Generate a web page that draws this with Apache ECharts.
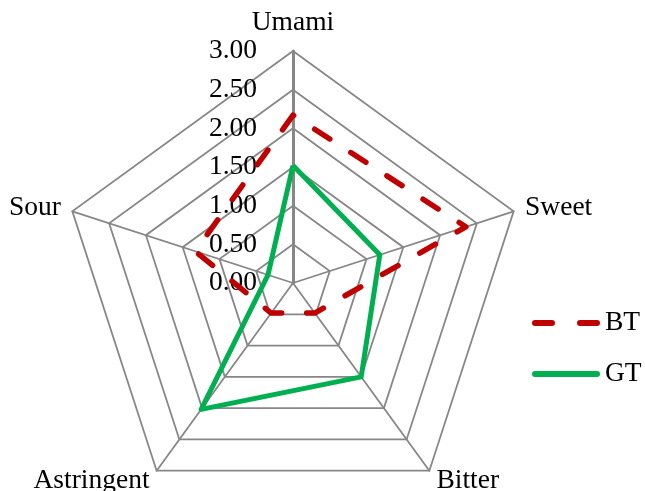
<!DOCTYPE html>
<html>
<head>
<meta charset="utf-8">
<script src="https://cdn.jsdelivr.net/npm/echarts@6/dist/echarts.min.js"></script>
<style>
html,body{margin:0;padding:0;background:#fff;}
#chart{width:645px;height:491px;}
</style>
</head>
<body>
<div id="chart"></div>
<script>
// Data (indicator order follows ECharts counter-clockwise layout)
const categories = ['Umami', 'Sour', 'Astringent', 'Bitter', 'Sweet'];
const bt = [2.17, 1.33, 0.48, 0.48, 2.35];
const gt = [1.52, 0.34, 2.02, 1.50, 1.18];
const seriesNames = ['BT', 'GT'];
const axisMax = 3;
const tickStep = 0.5;

const FONT = "'Liberation Serif', 'Times New Roman', serif";
const GRID = '#878787';

const chart = echarts.init(document.getElementById('chart'));
const indicator = categories.map((name, i) => {
  const o = { name: name, min: 0, max: axisMax };
  if (i === 0) {
    o.axisLabel = { show: true };
    o.axisLine = { lineStyle: { width: 3 } };
  }
  return o;
});

const btIcon = 'path://M3,0 H20 A3,3 0 0 1 20,6 H3 A3,3 0 0 1 3,0 Z M48,0 H65 A3,3 0 0 1 65,6 H48 A3,3 0 0 1 48,0 Z';
const gtIcon = 'path://M3,0 H65 A3,3 0 0 1 65,6 H3 A3,3 0 0 1 3,0 Z';

chart.setOption({
  animation: false,
  backgroundColor: '#fff',
  legend: {
    orient: 'vertical',
    left: 527,
    top: 304,
    itemWidth: 68,
    itemHeight: 6,
    itemGap: 23,
    textStyle: { fontFamily: FONT, fontSize: 27.5, color: '#000' },
    data: [
      { name: seriesNames[0], icon: btIcon, itemStyle: { color: '#C00000' } },
      { name: seriesNames[1], icon: gtIcon, itemStyle: { color: '#00B050' } }
    ]
  },
  radar: {
    center: [293, 283],
    radius: 232,
    startAngle: 90,
    shape: 'polygon',
    splitNumber: axisMax / tickStep,
    nameGap: 12,
    axisName: { fontFamily: FONT, fontSize: 27.5, color: '#000' },
    axisLine: { show: true, lineStyle: { color: GRID, width: 1.8 } },
    splitLine: { show: true, lineStyle: { color: GRID, width: 1.8 } },
    splitArea: { show: false },
    axisTick: { show: false },
    axisLabel: {
      show: false,
      margin: 36,
      fontFamily: FONT,
      fontSize: 27.5,
      color: '#000',
      formatter: v => Number(v).toFixed(2)
    },
    indicator: indicator
  },
  series: [{
    type: 'radar',
    symbol: 'none',
    data: [
      { name: seriesNames[0], value: bt,
        lineStyle: { color: '#C00000', width: 5.5, type: [18, 25], cap: 'round' },
        itemStyle: { color: '#C00000' } },
      { name: seriesNames[1], value: gt,
        lineStyle: { color: '#00B050', width: 5, type: 'solid' },
        itemStyle: { color: '#00B050' } }
    ]
  }]
});
</script>
</body>
</html>
